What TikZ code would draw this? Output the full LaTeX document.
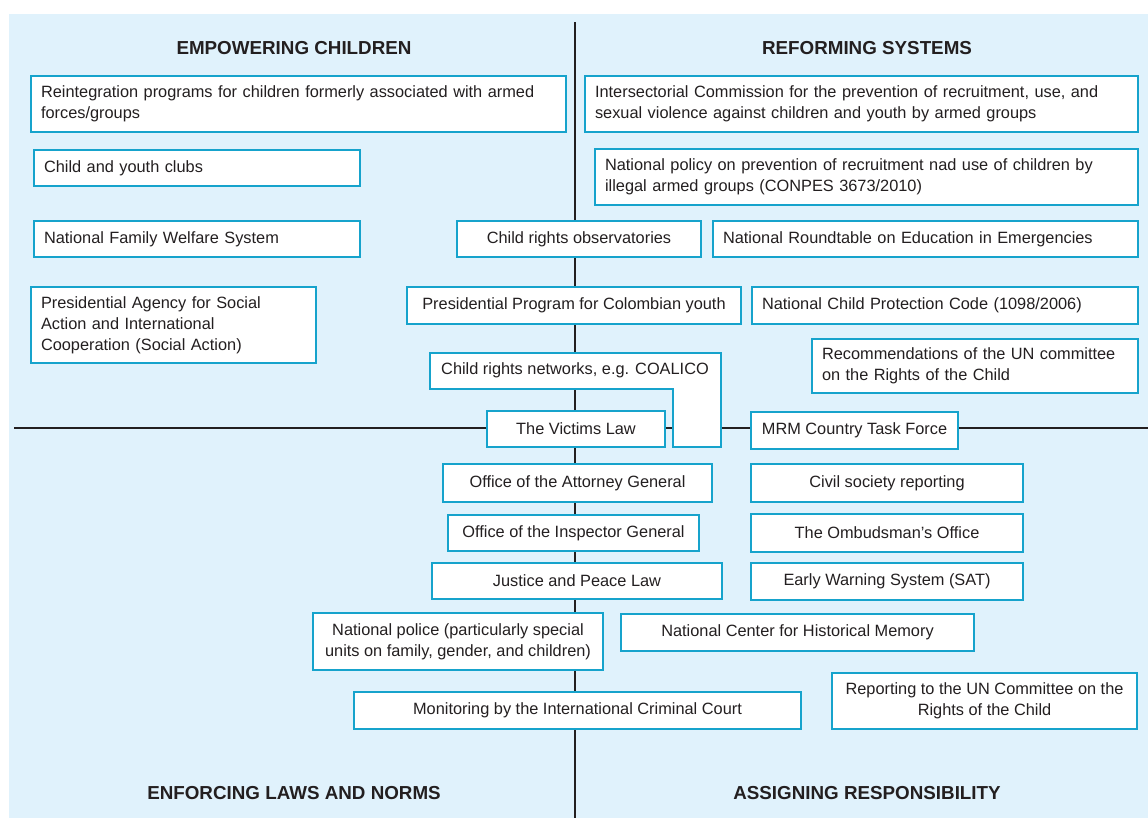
\documentclass[tikz,border=0pt]{standalone}
\usepackage{fontspec}
\setmainfont{Liberation Sans}
\usepackage{xcolor}
\usepackage{tikz}
\usetikzlibrary{positioning}

\definecolor{paleblue}{RGB}{224,242,252}
\definecolor{boxblue}{RGB}{22,163,204}
\definecolor{ink}{RGB}{35,31,32}

\tikzset{
  box/.style={draw=boxblue, line width=1.6pt, fill=white, text=ink,
              font=\fontsize{9.3}{12}\selectfont, inner xsep=0.2cm, inner ysep=2pt},
  leftbox/.style={box, align=left},
  midbox/.style={box, align=center},
  heading/.style={text=ink, font=\bfseries\fontsize{10.7}{13}\selectfont},
  axis/.style={draw=ink, line width=1.5pt}
}

\begin{document}
\begin{tikzpicture}[x=0.02cm, y=-0.02cm]
\useasboundingbox (0,0) rectangle (1148,818);
\fill[paleblue] (9,14) rectangle (1148,818);

% quadrant axes
\coordinate (top) at (575,22);
\coordinate (bottom) at (575,818);
\coordinate (left) at (14,428);
\coordinate (right) at (1148,428);
\draw[axis] (top) -- (bottom);
\draw[axis] (left) -- (right);

% headings
\node[heading] (empower) at (294,48) {EMPOWERING CHILDREN};
\node[heading] (reform) at (867,48) {REFORMING SYSTEMS};
\node[heading] (enforce) at (294,793) {ENFORCING LAWS AND NORMS};
\node[heading] (assign) at (867,793) {ASSIGNING RESPONSIBILITY};

% empowering children
\node[leftbox, text width=10.3cm, minimum height=1.12cm] (reintegration) at (298.5,104)
  {Reintegration programs for children formerly associated with armed\\forces/groups};
\node[leftbox, text width=6.12cm, minimum height=0.72cm] (clubs) at (197,168) {Child and youth clubs};
\node[leftbox, text width=6.12cm, minimum height=0.72cm] (welfare) at (197,239) {National Family Welfare System};
\node[leftbox, text width=5.3cm, minimum height=1.52cm] (agency) at (173.5,325)
  {Presidential Agency for Social\\Action and International\\Cooperation (Social Action)};

% reforming systems
\node[leftbox, text width=10.66cm, minimum height=1.12cm] (commission) at (861.5,104)
  {Intersectorial Commission for the prevention of recruitment, use, and\\sexual violence against children and youth by armed groups};
\node[leftbox, text width=10.46cm, minimum height=1.12cm] (policy) at (866.5,177)
  {National policy on prevention of recruitment nad use of children by\\illegal armed groups (CONPES 3673/2010)};
\node[midbox, minimum width=4.88cm, minimum height=0.72cm] (observatories) at (579,239) {Child rights observatories};
\node[leftbox, text width=8.1cm, minimum height=0.72cm] (roundtable) at (925.5,239) {National Roundtable on Education in Emergencies};
\node[midbox, minimum width=6.68cm, minimum height=0.74cm] (youth) at (574,305.5) {Presidential Program for Colombian youth};
\node[leftbox, text width=7.32cm, minimum height=0.74cm] (code) at (945,305.5) {National Child Protection Code (1098/2006)};
\node[leftbox, text width=6.12cm, minimum height=1.08cm] (recommend) at (975,366)
  {Recommendations of the UN committee\\on the Rights of the Child};

% networks box runs down over the axis
\draw[draw=boxblue, line width=1.6pt, fill=white]
  (430,353) -- (721,353) -- (721,447) -- (673,447) -- (673,389) -- (430,389) -- cycle;
\node[text=ink, font=\fontsize{9.3}{12}\selectfont] (networks) at (575,370) {Child rights networks, e.g. COALICO};
\node[midbox, minimum width=3.56cm, minimum height=0.72cm] (victims) at (576,429) {The Victims Law};
\node[midbox, minimum width=4.14cm, minimum height=0.74cm] (mrm) at (854.5,430.5) {MRM Country Task Force};

% enforcing laws and norms
\node[midbox, minimum width=5.38cm, minimum height=0.76cm] (attorney) at (577.5,483) {Office of the Attorney General};
\node[midbox, minimum width=5.02cm, minimum height=0.72cm] (inspector) at (573.5,533) {Office of the Inspector General};
\node[midbox, minimum width=5.8cm, minimum height=0.72cm] (justice) at (577,581) {Justice and Peace Law};
\node[midbox, minimum width=5.8cm, minimum height=1.14cm] (police) at (458,641.5)
  {National police (particularly special\\units on family, gender, and children)};
\node[midbox, minimum width=8.94cm, minimum height=0.74cm] (icc) at (577.5,710.5) {Monitoring by the International Criminal Court};

% assigning responsibility
\node[midbox, minimum width=5.44cm, minimum height=0.76cm] (civil) at (887,483) {Civil society reporting};
\node[midbox, minimum width=5.44cm, minimum height=0.76cm] (ombudsman) at (887,533) {The Ombudsman's Office};
\node[midbox, minimum width=5.44cm, minimum height=0.74cm] (warning) at (887,581.5) {Early Warning System (SAT)};
\node[midbox, minimum width=7.06cm, minimum height=0.74cm] (memory) at (797.5,632.5) {National Center for Historical Memory};
\node[midbox, minimum width=6.1cm, minimum height=1.12cm] (reporting) at (984.5,701)
  {Reporting to the UN Committee on the\\Rights of the Child};

\end{tikzpicture}
\end{document}
